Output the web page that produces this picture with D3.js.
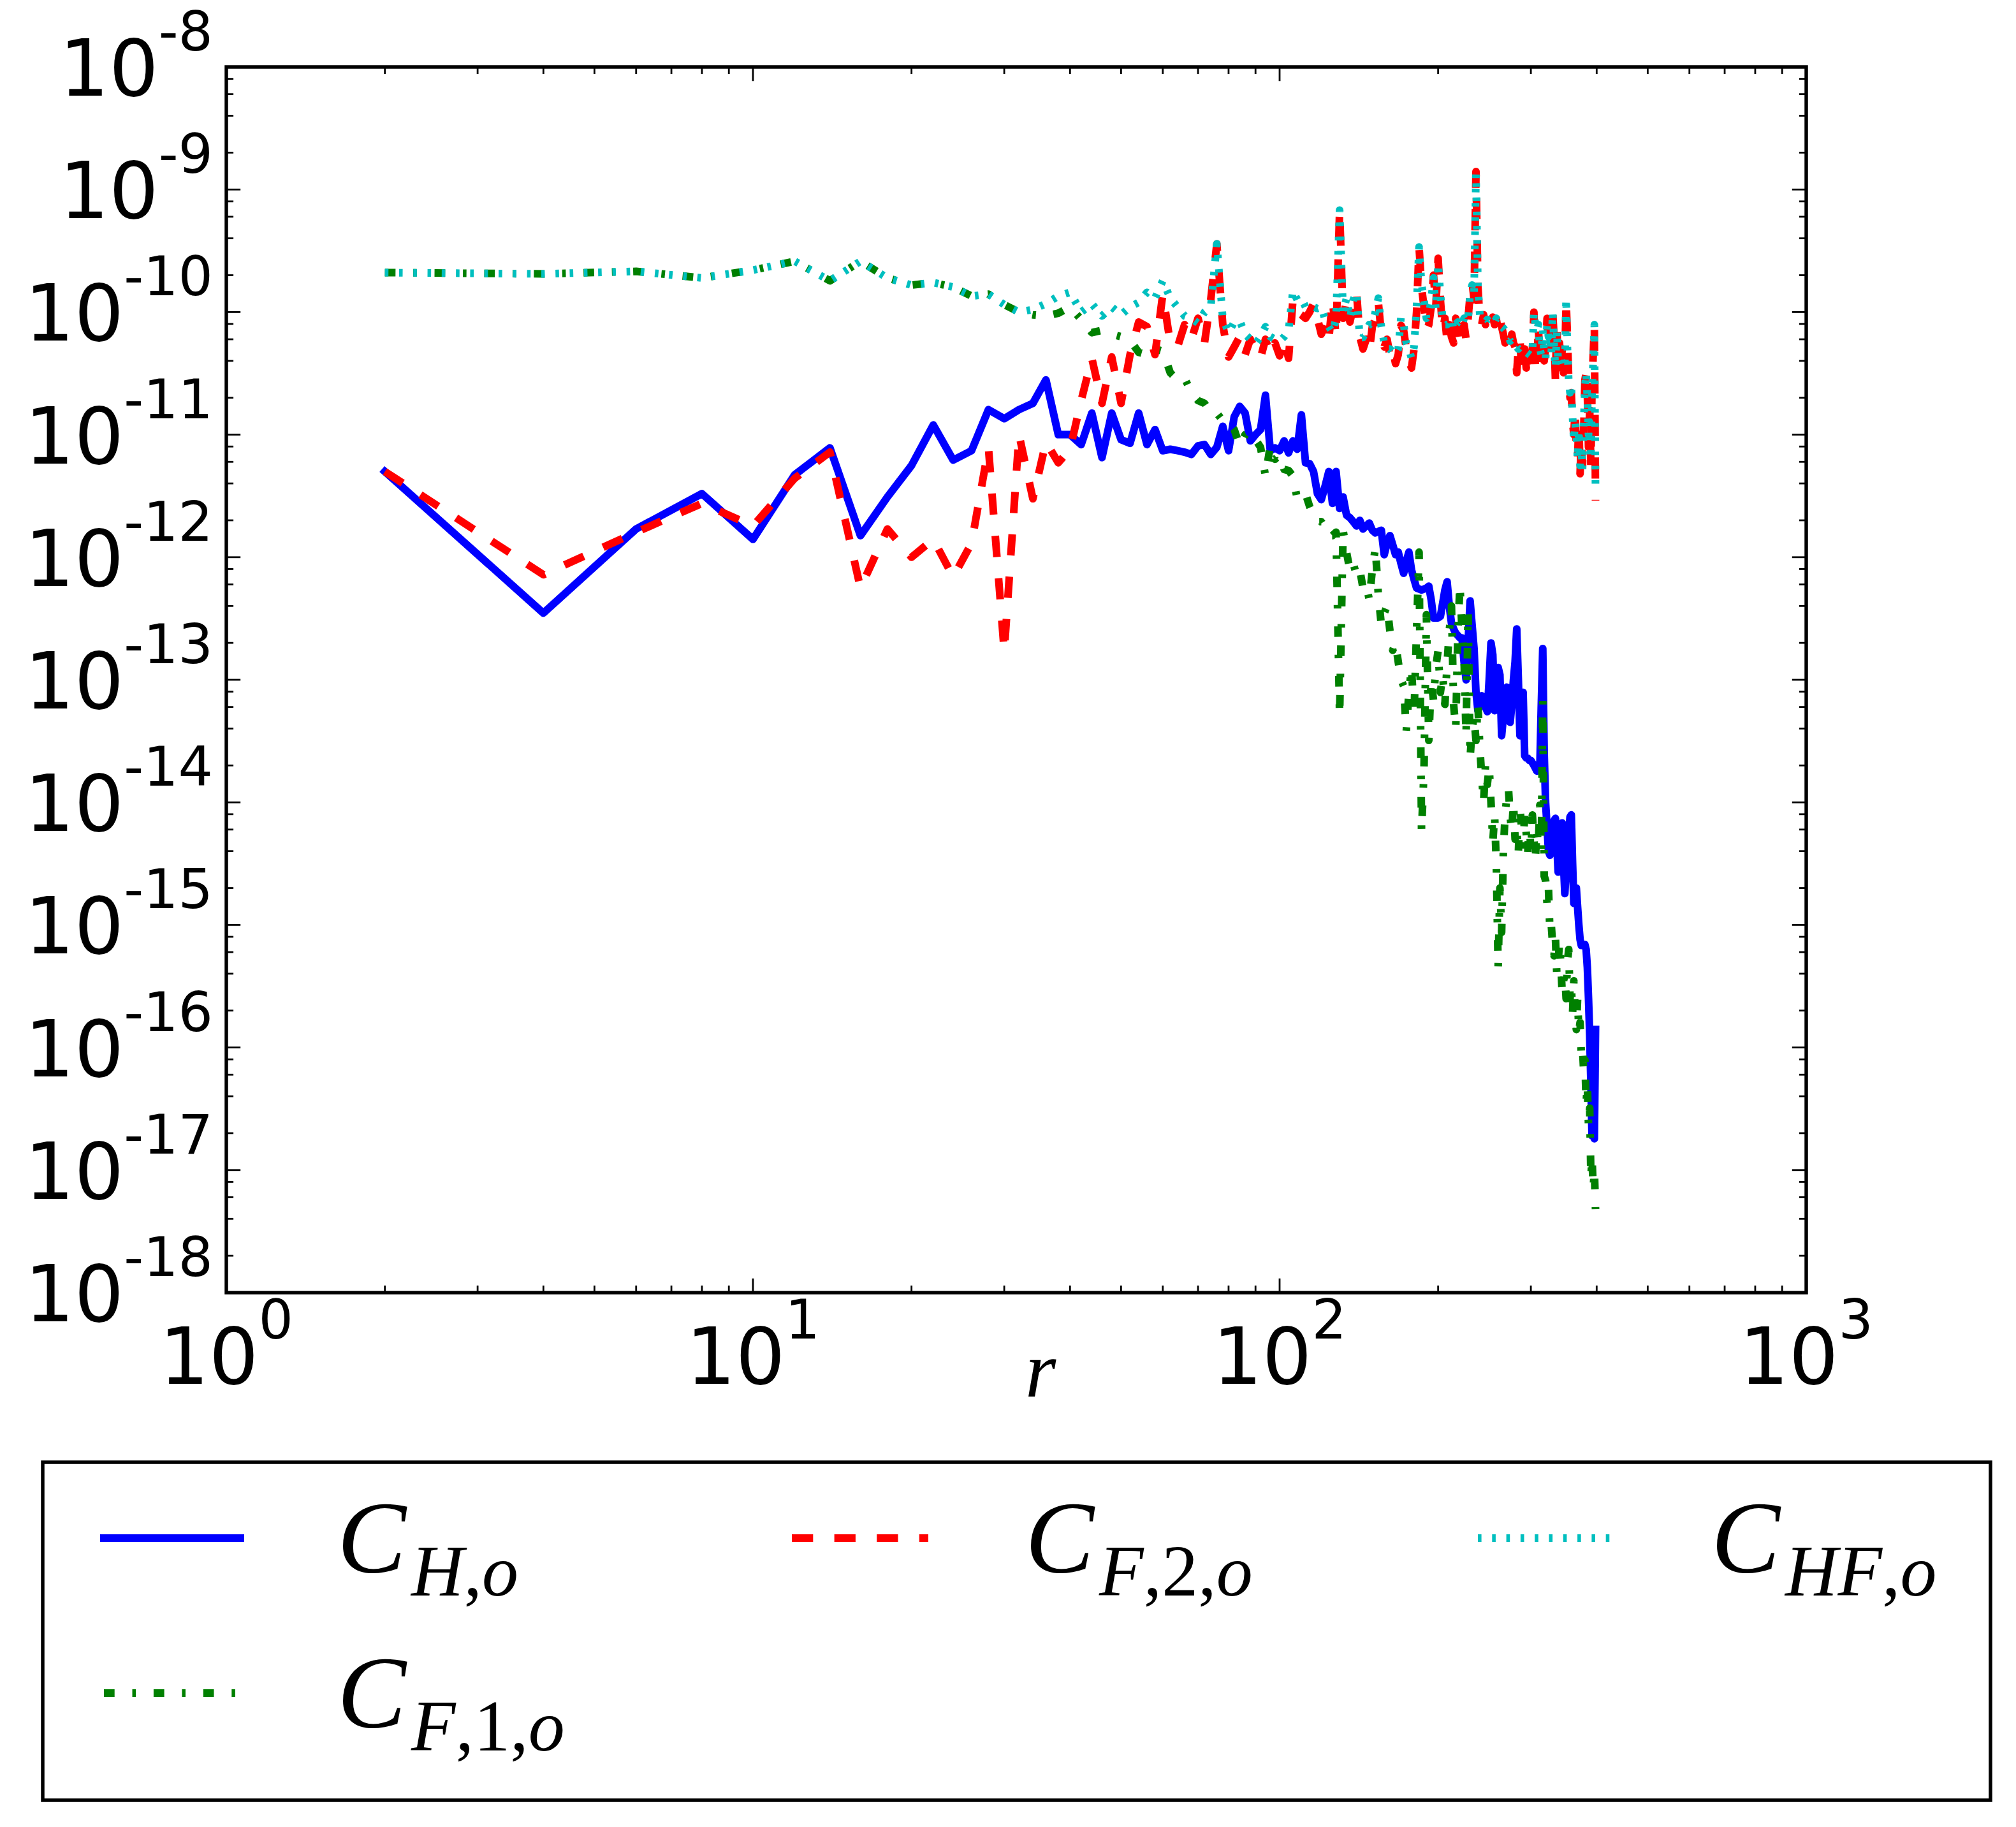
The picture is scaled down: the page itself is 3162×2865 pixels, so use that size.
<!DOCTYPE html>
<html><head><meta charset="utf-8">
<script src="https://cdnjs.cloudflare.com/ajax/libs/d3/7.8.5/d3.min.js"></script>
<style>html,body{margin:0;padding:0;background:#fff;overflow:hidden;} svg{display:block;}</style>
</head><body>
<script>
// ---------------- data ----------------
const r = [2,4,6,8,10,12,14,16,18,20,
22,24,26,28,30,32,34,36,38,40,
42,44,46,48,50,52,54,56,58,60,
62,64,66,68,70,72,74,76,78,80,
82,84,86,88,90,92,94,96,98,100,
102,104,106,108,110,112,114,116,118,120,
122,124,126,128,130,132,134,136,138,140,
142,144,146,148,150,152,154,156,158,160,
162,164,166,168,170,172,174,176,178,180,
182,184,186,188,190,192,194,196,198,200,
202,204,206,208,210,212,214,216,218,220,
222,224,226,228,230,232,234,236,238,240,
242,244,246,248,250,252,254,256,258,260,
262,264,266,268,270,272,274,276,278,280,
282,284,286,288,290,292,294,296,298,300,
302,304,306,308,310,312,314,316,318,320,
322,324,326,328,330,332,334,336,338,340,
342,344,346,348,350,352,354,356,358,360,
362,364,366,368,370,372,374,376,378,380,
382,384,386,388,390,392,394,396,398];

const C_H = [5.0e-12,3.5e-13,1.7e-12,3.3e-12,1.4e-12,4.7e-12,7.8e-12,1.5e-12,3.1e-12,5.6e-12,
1.2e-11,6.2e-12,7.4e-12,1.6e-11,1.35e-11,1.6e-11,1.8e-11,2.8e-11,1.0e-11,1.0e-11,
8.3e-12,1.5e-11,6.5e-12,1.5e-11,9.1e-12,8.5e-12,1.5e-11,8.3e-12,1.1e-11,7.4e-12,
7.6e-12,7.4e-12,7.2e-12,6.9e-12,8.1e-12,8.3e-12,6.9e-12,7.9e-12,1.17e-11,7.4e-12,
1.4e-11,1.7e-11,1.5e-11,8.9e-12,1.0e-11,1.1e-11,2.1e-11,7.4e-12,7.8e-12,7.4e-12,
8.9e-12,7.1e-12,8.9e-12,7.6e-12,1.45e-11,5.9e-12,5.8e-12,5.0e-12,3.3e-12,2.95e-12,
3.8e-12,5.0e-12,2.75e-12,5.0e-12,2.5e-12,3.1e-12,2.2e-12,2.1e-12,1.95e-12,1.8e-12,
2.0e-12,1.7e-12,1.8e-12,1.9e-12,1.66e-12,1.58e-12,1.62e-12,1.66e-12,1.05e-12,1.3e-12,
1.5e-12,1.26e-12,1.05e-12,1.1e-12,8.9e-13,7.4e-13,9.3e-13,1.1e-12,7.9e-13,6.6e-13,
5.6e-13,5.5e-13,5.4e-13,5.5e-13,5.6e-13,5.8e-13,4.5e-13,3.2e-13,3.2e-13,3.2e-13,
3.3e-13,4.2e-13,5.4e-13,6.3e-13,4.0e-13,2.9e-13,2.6e-13,2.4e-13,2.3e-13,2.2e-13,
2.2e-13,1.4e-13,1.0e-13,2.0e-13,4.4e-13,2.8e-13,1.8e-13,7.9e-14,5.6e-14,6.3e-14,
7.4e-14,6.9e-14,6.0e-14,5.5e-14,1.0e-13,2.0e-13,1.6e-13,5.6e-14,7.9e-14,1.26e-13,
1.1e-13,3.5e-14,5.0e-14,7.1e-14,8.7e-14,6.3e-14,4.5e-14,6.3e-14,1.0e-13,1.4e-13,
2.6e-13,1.0e-13,3.5e-14,5.0e-14,7.9e-14,2.4e-14,2.3e-14,2.3e-14,2.2e-14,2.2e-14,
2.1e-14,2.0e-14,1.9e-14,1.8e-14,1.9e-14,1.95e-14,6.3e-14,1.8e-13,2.5e-14,9.8e-15,
6.3e-15,4.0e-15,3.7e-15,4.5e-15,5.6e-15,7.1e-15,7.4e-15,4.5e-15,2.7e-15,3.5e-15,
5.0e-15,6.8e-15,3.2e-15,1.8e-15,2.8e-15,4.0e-15,5.6e-15,7.6e-15,7.9e-15,3.2e-15,
1.5e-15,1.8e-15,2.0e-15,1.4e-15,1.0e-15,7.6e-16,6.8e-16,6.8e-16,6.9e-16,6.9e-16,
6.3e-16,4.5e-16,2.5e-16,1.26e-16,5.0e-17,1.9e-17,6.3e-17,1.8e-17,1.4e-16];

const C_F1 = [2.1e-10,2.05e-10,2.15e-10,1.9e-10,2.2e-10,2.6e-10,1.8e-10,2.6e-10,1.9e-10,1.66e-10,
1.74e-10,1.6e-10,1.35e-10,1.4e-10,1.15e-10,1.0e-10,9.5e-11,9.3e-11,9.8e-11,1.1e-10,
8.7e-11,6.8e-11,7.1e-11,6.6e-11,6.3e-11,5.9e-11,4.7e-11,4.5e-11,5.0e-11,4.8e-11,
3.2e-11,2.8e-11,2.9e-11,2.2e-11,1.9e-11,1.8e-11,1.5e-11,1.5e-11,1.3e-11,1.26e-11,
1.1e-11,8.1e-12,1.0e-11,1.05e-11,9.1e-12,7.9e-12,4.6e-12,8.1e-12,6.3e-12,6.8e-12,
5.2e-12,5.1e-12,4.6e-12,3.0e-12,3.2e-12,3.3e-12,2.6e-12,2.2e-12,1.95e-12,1.95e-12,
1.74e-12,1.5e-12,1.5e-12,1.6e-12,5.1e-14,1.66e-12,1.1e-12,7.8e-13,8.9e-13,7.1e-13,
7.9e-13,5.6e-13,6.0e-13,4.5e-13,7.9e-13,1.2e-12,4.9e-13,2.8e-13,3.5e-13,4.0e-13,
2.5e-13,1.74e-13,2.0e-13,1.4e-13,1.0e-13,8.9e-14,3.8e-14,7.9e-14,1.26e-13,5.2e-14,
2.5e-13,1.1e-12,5.8e-15,1.8e-14,3.4e-13,3.2e-14,1.0e-13,6.8e-14,1.26e-13,1.74e-13,
7.9e-14,1.1e-13,6.3e-14,1.35e-13,2.5e-13,4.0e-13,6.3e-14,4.0e-14,2.4e-13,6.0e-13,
2.5e-13,1.45e-13,3.5e-14,3.6e-13,2.3e-14,4.0e-14,5.0e-14,3.2e-14,6.3e-14,2.8e-14,
1.6e-14,1.0e-14,2.0e-14,1.4e-14,1.95e-14,1.0e-14,4.7e-15,7.9e-15,3.0e-15,4.5e-16,
2.0e-15,8.7e-16,4.0e-15,7.9e-15,1.1e-14,1.3e-14,7.6e-15,5.8e-15,1.0e-14,5.0e-15,
6.3e-15,3.8e-15,9.1e-15,6.3e-15,4.5e-15,7.9e-15,5.6e-15,3.9e-15,7.1e-15,3.9e-15,
7.9e-15,5.0e-15,3.5e-15,6.0e-15,4.5e-15,9.5e-15,4.0e-15,6.8e-14,2.5e-15,2.3e-15,
1.5e-15,2.0e-15,8.9e-16,1.0e-15,6.8e-16,5.6e-16,7.9e-16,4.0e-16,5.0e-16,7.2e-16,
4.8e-16,2.8e-16,3.5e-16,3.9e-16,2.5e-16,5.0e-16,6.3e-16,2.5e-16,3.2e-16,1.9e-16,
3.5e-16,2.0e-16,1.4e-16,2.5e-16,1.35e-16,1.6e-16,8.9e-17,1.0e-16,6.2e-17,7.9e-17,
3.5e-17,5.0e-17,2.3e-17,3.2e-17,8.7e-18,1.26e-17,7.1e-18,1.0e-17,4.8e-18];

const C_F2 = [5.0e-12,7.2e-13,1.6e-12,2.75e-12,1.8e-12,4.4e-12,7.2e-12,5.6e-13,1.7e-12,1.0e-12,
1.4e-12,6.9e-13,1.3e-12,7.8e-12,1.7e-13,1.0e-11,3.0e-12,8.7e-12,5.9e-12,7.6e-12,
1.9e-11,4.2e-11,1.8e-11,4.3e-11,1.8e-11,4.5e-11,8.3e-11,7.6e-11,4.5e-11,1.4e-10,
5.6e-11,5.2e-11,7.9e-11,6.0e-11,8.9e-11,5.6e-11,1.26e-10,3.6e-10,7.9e-11,4.3e-11,
5.2e-11,6.3e-11,4.5e-11,6.0e-11,5.0e-11,4.2e-11,6.0e-11,4.5e-11,5.6e-11,4.4e-11,
6.0e-11,4.2e-11,1.26e-10,1.0e-10,9.5e-11,8.9e-11,1.0e-10,1.17e-10,8.9e-11,6.6e-11,
7.9e-11,6.0e-11,1.26e-10,6.3e-11,6.8e-10,8.9e-11,1.26e-10,8.3e-11,1.1e-10,1.45e-10,
6.3e-11,5.0e-11,6.0e-11,4.8e-11,7.6e-11,8.9e-11,1.2e-10,6.6e-11,5.2e-11,6.0e-11,
4.4e-11,5.0e-11,3.8e-11,4.5e-11,7.8e-11,7.1e-11,5.0e-11,4.0e-11,3.5e-11,5.0e-11,
1.0e-10,3.4e-10,1.6e-10,1.1e-10,7.1e-11,7.9e-11,1.1e-10,2.0e-10,1.1e-10,2.75e-10,
1.26e-10,7.1e-11,8.9e-11,5.8e-11,7.9e-11,6.3e-11,5.6e-11,8.9e-11,7.1e-11,5.4e-11,
7.1e-11,7.9e-11,6.0e-11,8.9e-11,1.4e-10,1.8e-10,1.26e-10,1.4e-9,1.6e-10,8.9e-11,
7.9e-11,9.5e-11,7.9e-11,8.9e-11,7.6e-11,8.3e-11,9.1e-11,7.9e-11,8.7e-11,7.2e-11,
8.9e-11,7.6e-11,6.6e-11,5.6e-11,6.3e-11,6.0e-11,5.2e-11,6.6e-11,5.6e-11,5.2e-11,
3.2e-11,5.0e-11,6.0e-11,3.5e-11,4.5e-11,5.0e-11,3.5e-11,4.8e-11,4.0e-11,4.2e-11,
4.8e-11,1.0e-10,3.5e-11,3.2e-11,7.9e-11,3.5e-11,5.0e-11,6.3e-11,4.0e-11,5.0e-11,
8.9e-11,5.6e-11,7.1e-11,4.0e-11,1.0e-10,6.3e-11,2.8e-11,7.9e-11,3.5e-11,5.6e-11,
3.5e-11,5.0e-11,3.2e-11,4.0e-11,1.26e-10,6.3e-11,2.8e-11,2.0e-11,2.2e-11,1.26e-11,
1.0e-11,1.6e-11,7.9e-12,6.3e-12,1.26e-11,4.8e-12,8.9e-12,5.6e-12,1.1e-11,2.8e-11,
3.2e-11,2.2e-11,7.9e-12,1.6e-11,5.5e-12,2.5e-11,4.5e-11,7.9e-11,2.9e-12];

const C_HF = [2.1e-10,2.05e-10,2.15e-10,1.9e-10,2.2e-10,2.6e-10,1.8e-10,2.6e-10,1.9e-10,1.66e-10,
1.74e-10,1.6e-10,1.35e-10,1.4e-10,1.15e-10,1.0e-10,1.05e-10,1.17e-10,1.35e-10,1.45e-10,
1.0e-10,1.17e-10,9.3e-11,1.1e-10,9.5e-11,1.1e-10,1.2e-10,1.45e-10,1.3e-10,1.8e-10,
1.3e-10,1.1e-10,9.3e-11,8.9e-11,8.1e-11,1.0e-10,1.1e-10,3.6e-10,8.9e-11,6.8e-11,
8.3e-11,8.5e-11,6.6e-11,6.0e-11,5.5e-11,6.3e-11,7.6e-11,6.3e-11,6.0e-11,5.8e-11,
6.3e-11,7.1e-11,1.5e-10,1.26e-10,1.3e-10,1.1e-10,1.05e-10,1.1e-10,1.07e-10,1.1e-10,
8.7e-11,7.6e-11,6.8e-11,8.9e-11,6.8e-10,1.0e-10,1.3e-10,8.9e-11,1.26e-10,1.45e-10,
6.2e-11,6.2e-11,7.1e-11,7.9e-11,7.9e-11,1.0e-10,1.3e-10,7.6e-11,5.6e-11,5.0e-11,
5.0e-11,4.7e-11,4.5e-11,5.0e-11,9.1e-11,7.9e-11,5.6e-11,5.0e-11,4.2e-11,5.2e-11,
1.1e-10,3.4e-10,1.7e-10,1.26e-10,8.9e-11,9.5e-11,1.26e-10,1.9e-10,1.05e-10,2.5e-10,
1.4e-10,8.9e-11,7.9e-11,7.9e-11,8.3e-11,8.9e-11,7.1e-11,7.9e-11,8.3e-11,7.6e-11,
7.9e-11,8.9e-11,8.3e-11,8.7e-11,1.4e-10,1.66e-10,1.4e-10,1.35e-9,1.6e-10,9.5e-11,
9.1e-11,8.9e-11,8.3e-11,8.7e-11,8.3e-11,8.7e-11,8.5e-11,8.3e-11,8.9e-11,7.9e-11,
7.9e-11,7.6e-11,7.4e-11,7.1e-11,6.6e-11,6.3e-11,5.8e-11,6.0e-11,5.6e-11,5.5e-11,
5.2e-11,5.0e-11,5.2e-11,5.0e-11,4.9e-11,4.8e-11,4.7e-11,4.6e-11,4.5e-11,4.4e-11,
4.6e-11,1.0e-10,7.9e-11,7.1e-11,7.9e-11,5.0e-11,4.5e-11,7.1e-11,4.5e-11,4.2e-11,
7.9e-11,6.3e-11,6.6e-11,4.5e-11,1.0e-10,5.6e-11,3.5e-11,7.1e-11,4.0e-11,4.0e-11,
4.2e-11,3.8e-11,3.5e-11,3.5e-11,1.3e-10,5.0e-11,2.75e-11,2.2e-11,2.5e-11,1.4e-11,
8.9e-12,1.26e-11,1.0e-11,6.3e-12,1.1e-11,5.6e-12,7.9e-12,5.2e-12,1.26e-11,2.5e-11,
3.2e-11,2.0e-11,1.0e-11,1.26e-11,6.3e-12,2.2e-11,4.0e-11,7.9e-11,3.5e-12];

const xMajorTicks = [1, 10, 100, 1000];
const xTickExponents = ["0", "1", "2", "3"];
const xMinorSubs = [2, 3, 4, 5, 6, 7, 8, 9];
const yMajorTicks = [1e-8, 1e-9, 1e-10, 1e-11, 1e-12, 1e-13, 1e-14, 1e-15, 1e-16, 1e-17, 1e-18];
const yTickExponents = ["-8", "-9", "-10", "-11", "-12", "-13", "-14", "-15", "-16", "-17", "-18"];
const yMinorSubs = [2, 4, 6, 8];
const seriesKeys = ["C_H", "C_F1", "C_F2", "C_HF"];
const seriesLabels = [
  [["H", true], [",", false], ["o", true]],
  [["F", true], [",", false], ["1", false], [",", false], ["o", true]],
  [["F", true], [",", false], ["2", false], [",", false], ["o", true]],
  [["HF", true], [",", false], ["o", true]]
];
const xLabel = "r";

// ---------------- layout / style ----------------
const W = 3162, H = 2865;
const P = {left: 355, right: 2833, top: 105, bottom: 2027};
const LW = 12;
const styles = {
  C_H:  {color: "#0000ff", dash: null, cap: "square"},
  C_F1: {color: "#008000", dash: "16.7,27.8,5.6,27.8", cap: "butt"},
  C_F2: {color: "#ff0000", dash: "33.3,33.3", cap: "butt"},
  C_HF: {color: "#00bfbf", dash: "5.6,16.7", cap: "butt"}
};
const dataByKey = {C_H: C_H, C_F1: C_F1, C_F2: C_F2, C_HF: C_HF};

const svg = d3.select("body").append("svg").attr("width", W).attr("height", H)
  .attr("xmlns", "http://www.w3.org/2000/svg");
svg.append("rect").attr("width", W).attr("height", H).attr("fill", "#fff");

const x = d3.scaleLog().domain([1, 1000]).range([P.left, P.right]);
const y = d3.scaleLog().domain([1e-18, 1e-8]).range([P.bottom, P.top]);

svg.append("defs").append("clipPath").attr("id", "plotclip")
  .append("rect").attr("x", P.left).attr("y", P.top)
  .attr("width", P.right - P.left).attr("height", P.bottom - P.top);

const line = d3.line().x(d => x(d[0])).y(d => y(d[1]));
const gLines = svg.append("g").attr("clip-path", "url(#plotclip)");
seriesKeys.forEach(k => {
  const st = styles[k];
  const pts = r.map((rv, i) => [rv, dataByKey[k][i]]);
  gLines.append("path").datum(pts).attr("d", line)
    .attr("fill", "none").attr("stroke", st.color).attr("stroke-width", LW)
    .attr("stroke-linejoin", "round").attr("stroke-linecap", st.cap)
    .attr("stroke-dasharray", st.dash);
});

// ticks (inward, on all four sides)
const gT = svg.append("g").attr("stroke", "#000").attr("stroke-width", 2.8);
const MAJ = 22.2, MIN = 11.1;
function xTick(v, len) {
  const px = x(v);
  gT.append("line").attr("x1", px).attr("x2", px).attr("y1", P.bottom).attr("y2", P.bottom - len);
  gT.append("line").attr("x1", px).attr("x2", px).attr("y1", P.top).attr("y2", P.top + len);
}
function yTick(v, len) {
  const py = y(v);
  gT.append("line").attr("y1", py).attr("y2", py).attr("x1", P.left).attr("x2", P.left + len);
  gT.append("line").attr("y1", py).attr("y2", py).attr("x1", P.right).attr("x2", P.right - len);
}
xMajorTicks.forEach(t => xTick(t, MAJ));
xMajorTicks.slice(0, -1).forEach(t => xMinorSubs.forEach(s => xTick(t * s, MIN)));
yMajorTicks.forEach(t => yTick(t, MAJ));
yMajorTicks.slice(1).forEach(t => yMinorSubs.forEach(s => yTick(t * s, MIN)));

// frame
svg.append("rect").attr("x", P.left).attr("y", P.top)
  .attr("width", P.right - P.left).attr("height", P.bottom - P.top)
  .attr("fill", "none").attr("stroke", "#000").attr("stroke-width", 5.5);

// tick labels
const FS = 122.2, SUP = 85.6, SUPDY = -71;
xMajorTicks.forEach((t, i) => {
  const tx = svg.append("text").attr("x", x(t)).attr("y", 2170)
    .attr("text-anchor", "middle").attr("font-family", "DejaVu Sans").attr("font-size", FS).attr("fill", "#000");
  tx.append("tspan").text("10");
  tx.append("tspan").attr("font-size", SUP).attr("dy", SUPDY).text(xTickExponents[i]);
});
yMajorTicks.forEach((t, i) => {
  const tx = svg.append("text").attr("x", 334).attr("y", y(t) + 45)
    .attr("text-anchor", "end").attr("font-family", "DejaVu Sans").attr("font-size", FS).attr("fill", "#000");
  tx.append("tspan").text("10");
  tx.append("tspan").attr("font-size", SUP).attr("dy", SUPDY).text(yTickExponents[i]);
});

// x label
svg.append("text").attr("x", 1608).attr("y", 2190)
  .attr("font-family", "Liberation Serif").attr("font-style", "italic")
  .attr("font-size", 124).attr("fill", "#000").text(xLabel);

// legend
const L = {x: 67, y: 2293, w: 3055, h: 530};
svg.append("rect").attr("x", L.x).attr("y", L.y).attr("width", L.w).attr("height", L.h)
  .attr("fill", "#fff").attr("stroke", "#000").attr("stroke-width", 5.5);
const colX = [163, 1242, 2318];
const rowY = [2412, 2655];
const HANDLE = 214;
const place = {C_H: [0, 0], C_F1: [0, 1], C_F2: [1, 0], C_HF: [2, 0]};
seriesKeys.forEach((k, i) => {
  const st = styles[k];
  const [c, rw] = place[k];
  const x0 = colX[c], yy = rowY[rw];
  svg.append("line").attr("x1", x0).attr("x2", x0 + HANDLE).attr("y1", yy).attr("y2", yy)
    .attr("stroke", st.color).attr("stroke-width", LW).attr("stroke-linecap", st.cap)
    .attr("stroke-dasharray", st.dash);
  const t = svg.append("text").attr("x", x0 + HANDLE + 152).attr("y", yy + 54)
    .attr("font-family", "Liberation Serif").attr("font-size", 162).attr("fill", "#000");
  t.append("tspan").attr("font-style", "italic").text("C");
  seriesLabels[i].forEach((p, j) => {
    const ts = t.append("tspan").attr("font-size", 114)
      .attr("font-style", p[1] ? "italic" : "normal").text(p[0]);
    if (j === 0) ts.attr("dy", 36).attr("dx", 8);
  });
});
</script>
</body></html>
